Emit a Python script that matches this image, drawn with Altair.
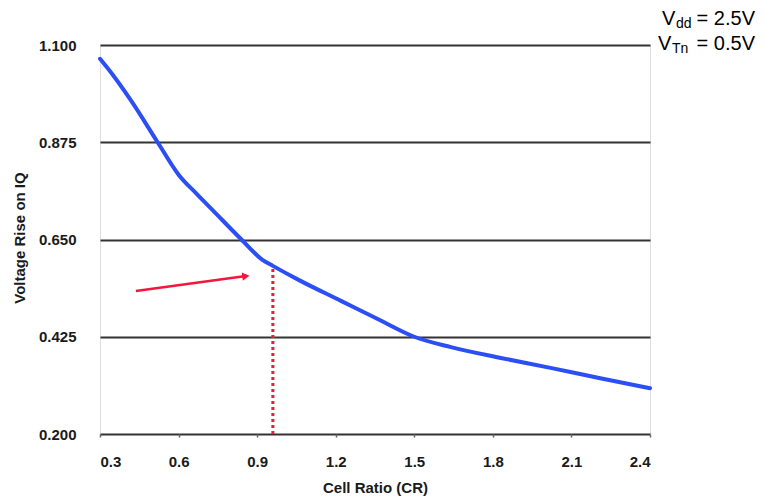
import altair as alt
import pandas as pd

# Curve data
cell_ratio = [0.30, 0.35, 0.42, 0.52, 0.60, 0.67, 0.73, 0.84, 0.92, 0.96, 1.06, 1.22, 1.37, 1.50, 1.64, 1.83, 2.02, 2.21, 2.40]
voltage_rise = [1.068, 1.030, 0.970, 0.875, 0.800, 0.755, 0.718, 0.650, 0.603, 0.589, 0.556, 0.508, 0.463, 0.425, 0.401, 0.376, 0.353, 0.329, 0.306]

y_ticks = [0.200, 0.425, 0.650, 0.875, 1.100]
x_ticks = [0.3, 0.6, 0.9, 1.2, 1.5, 1.8, 2.1, 2.4]

# Annotation: dotted marker at CR ~0.96 and an arrow pointing at it
marker_cr = [0.96, 0.96]
marker_v = [0.2, 0.589]
arrow_cr = [0.437, 0.85]
arrow_v = [0.531, 0.5648]
arrow_tip_cr = [0.857]
arrow_tip_v = [0.5652]

note_main = ["V", "V"]
note_sub = ["dd", "Tn"]
note_rest = ["= 2.5V", "= 0.5V"]

W, H = 550, 389
BLUE = "#2b4ef5"
RED = "#f5163c"

df = pd.DataFrame({"cr": cell_ratio, "v": voltage_rise})
xs = alt.Scale(domain=[0.3, 2.4], nice=False, zero=False)
ys = alt.Scale(domain=[0.2, 1.1], nice=False, zero=False)

x_axis = alt.Axis(values=x_ticks, format=".1f", grid=False, domain=False,
                  ticks=True, tickSize=3, tickColor="#666", tickWidth=1.5,
                  labelFont="Liberation Sans", labelFontWeight="bold", labelFontSize=15,
                  labelColor="#1a1a1a", labelPadding=17,
                  title="Cell Ratio (CR)", titleFont="Liberation Sans", titleFontWeight="bold",
                  titleFontSize=15, titleColor="#1a1a1a", titleY=53, titleBaseline="middle")
y_axis = alt.Axis(values=y_ticks, format=".3f", grid=True, gridColor="#333", gridWidth=2,
                  domain=False, ticks=False, labelFont="Liberation Sans", labelFontWeight="bold",
                  labelFontSize=15, labelColor="#1a1a1a", labelPadding=24,
                  title="Voltage Rise on IQ", titleFont="Liberation Sans", titleFontWeight="bold",
                  titleFontSize=15, titleColor="#1a1a1a", titleX=-81, titleY=H / 2 - 2,
                  titleAngle=270, titleAlign="center", titleBaseline="middle")

curve = alt.Chart(df).mark_line(color=BLUE, strokeWidth=4, strokeCap="round",
                                interpolate="monotone").encode(
    x=alt.X("cr:Q", scale=xs, axis=x_axis),
    y=alt.Y("v:Q", scale=ys, axis=y_axis),
)

marker = alt.Chart(pd.DataFrame({"cr": marker_cr, "v": marker_v})).mark_line(
    color=RED, strokeWidth=3, strokeDash=[3, 3]
).encode(x=alt.X("cr:Q", scale=xs), y=alt.Y("v:Q", scale=ys))

arrow = alt.Chart(pd.DataFrame({"cr": arrow_cr, "v": arrow_v})).mark_line(
    color=RED, strokeWidth=2.5
).encode(x=alt.X("cr:Q", scale=xs), y=alt.Y("v:Q", scale=ys))

tip = alt.Chart(pd.DataFrame({"cr": arrow_tip_cr, "v": arrow_tip_v})).mark_point(
    shape="triangle-up", filled=True, color=RED, size=70, angle=82.5, opacity=1
).encode(x=alt.X("cr:Q", scale=xs), y=alt.Y("v:Q", scale=ys))

notes = []
main_x = [562, 558]
sub_x = [576, 572]
for i in range(2):
    base_y = -20 + 25 * i
    one = pd.DataFrame({"a": [note_main[i]], "b": [note_sub[i]], "c": [note_rest[i]]})
    notes.append(alt.Chart(one).mark_text(font="Liberation Sans", fontSize=20, align="left",
                                          baseline="alphabetic", color="black").encode(
        x=alt.value(main_x[i]), y=alt.value(base_y), text="a:N"))
    notes.append(alt.Chart(one).mark_text(font="Liberation Sans", fontSize=14, align="left",
                                          baseline="alphabetic", color="black").encode(
        x=alt.value(sub_x[i]), y=alt.value(base_y + 3), text="b:N"))
    notes.append(alt.Chart(one).mark_text(font="Liberation Sans", fontSize=20, align="right",
                                          baseline="alphabetic", color="black").encode(
        x=alt.value(655), y=alt.value(base_y), text="c:N"))

chart = alt.layer(curve, marker, arrow, tip, *notes).properties(
    width=W, height=H,
    autosize=alt.AutoSizeParams(type="none"),
    padding={"left": 92, "top": 37, "right": 106, "bottom": 66},
).configure_view(strokeWidth=0).configure(background="white")

chart.save("out.html", embed_options={"renderer": "svg", "actions": False})
